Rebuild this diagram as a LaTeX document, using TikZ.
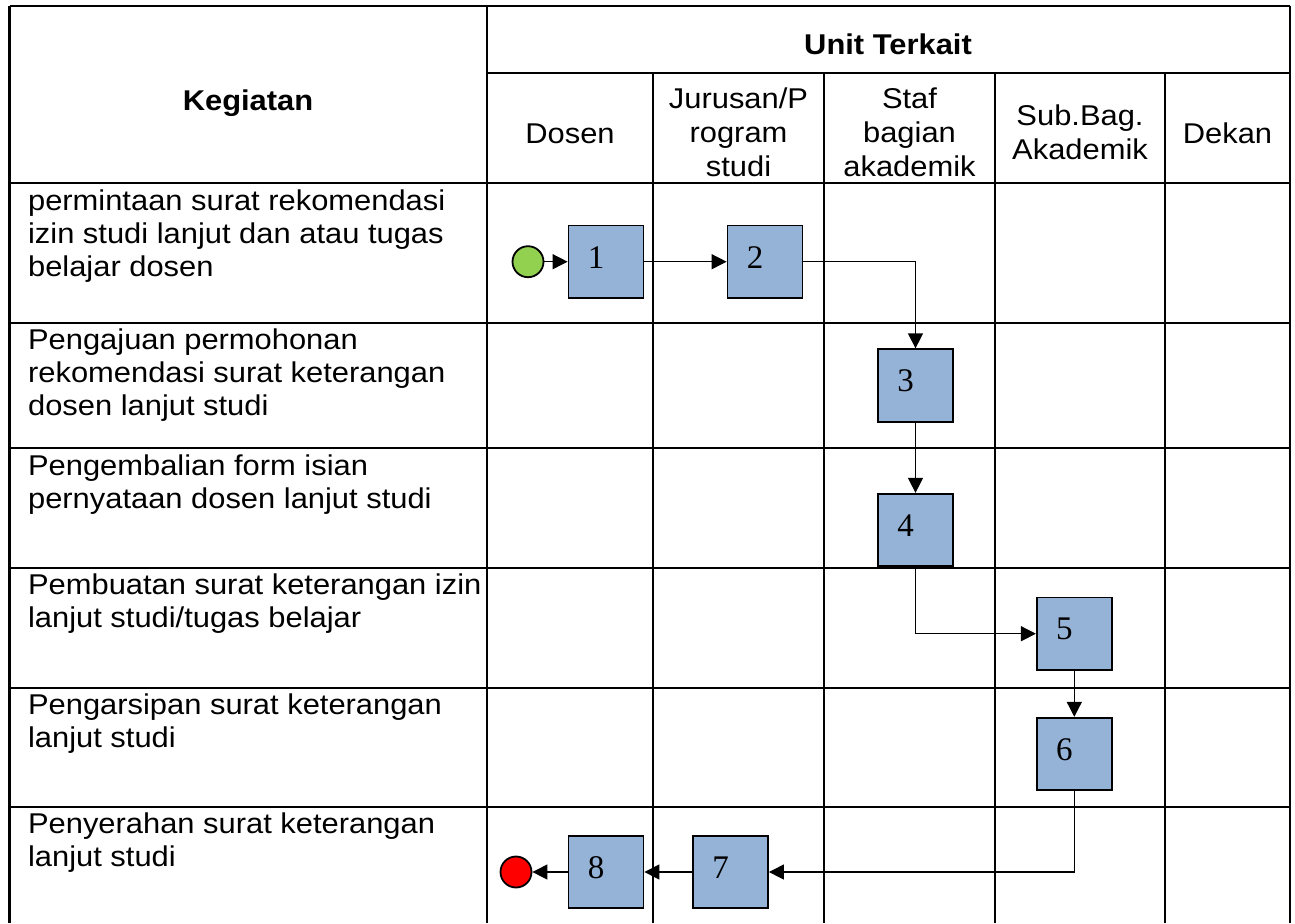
\documentclass[tikz,border=0pt]{standalone}
\usepackage{fontspec}
\setmainfont{Liberation Sans}
\newfontfamily\numfont{Liberation Serif}
\usepackage{graphicx}
\usetikzlibrary{arrows.meta}
\definecolor{boxblue}{RGB}{149,179,215}
\definecolor{startgreen}{RGB}{146,208,80}
\definecolor{endred}{RGB}{255,0,0}
\newcommand{\wide}[1]{\scalebox{1.08}[1]{#1}}
\newcommand{\lines}[1]{\wide{\begin{tabular}[t]{@{}l@{}}#1\end{tabular}}}
\newcommand{\clines}[1]{\wide{\begin{tabular}[t]{@{}c@{}}#1\end{tabular}}}
\begin{document}
\begin{tikzpicture}[x=0.5pt,y=-0.5pt,
  grid/.style={line width=1.1pt},
  body/.style={inner sep=0pt, anchor=base west, font=\fontsize{14.3}{16.5}\selectfont},
  head/.style={inner sep=0pt, anchor=base, font=\fontsize{14.3}{17}\selectfont},
  numlbl/.style={inner sep=0pt, font=\numfont\fontsize{16.5}{18}\selectfont, xshift=-5pt, yshift=2.25pt},
  proc/.style={draw=black, line width=0.9pt, fill=boxblue, minimum width=37.5pt, minimum height=36.25pt, inner sep=0pt, label={[numlbl]center:#1}},
  term/.style={circle, draw=black, line width=0.9pt, minimum size=15.5pt, inner sep=0pt},
  conn/.style={line width=0.65pt, -{Triangle[length=7.5pt,width=7.5pt]}}]
\useasboundingbox (0,0) rectangle (1295,923);
\fill[white] (0,0) rectangle (1295,923);
% table grid
\draw[grid] (9.5,6) -- (1290,6);
\draw[grid] (487,72.7) -- (1290,72.7);
\foreach \y in {183,322.7,448.3,567.7,687.7,806.7}
  \draw[grid] (9.5,\y) -- (1290,\y);
\draw[grid] (9.5,6) -- (9.5,923);
\draw[grid] (487,6) -- (487,923);
\draw[grid] (1290,6) -- (1290,923);
\foreach \x in {653,824,995,1165}
  \draw[grid] (\x,72.7) -- (\x,923);
% headers
\node[head, font=\fontsize{14.3}{17}\selectfont\bfseries] (hkeg) at (248,110) {\wide{Kegiatan}};
\node[head, font=\fontsize{14.3}{17}\selectfont\bfseries] (hunit) at (888,54) {\wide{Unit Terkait}};
\node[head] (hdos) at (570,143.3) {\clines{Dosen}};
\node[head] (hjur) at (738.5,108.3) {\clines{Jurusan/P\\rogram\\studi}};
\node[head] (hstaf) at (909.5,108.3) {\clines{Staf\\bagian\\akademik}};
\node[head] (hsub) at (1080,125) {\clines{Sub.Bag.\\Akademik}};
\node[head] (hdek) at (1227.5,143.3) {\clines{Dekan}};
% activities
\node[body] (k1) at (27.7,210) {\lines{permintaan surat rekomendasi\\izin studi lanjut dan atau tugas\\belajar dosen}};
\node[body] (k2) at (27.7,349.7) {\lines{Pengajuan permohonan\\rekomendasi surat keterangan\\dosen lanjut studi}};
\node[body] (k3) at (27.7,475.3) {\lines{Pengembalian form isian\\pernyataan dosen lanjut studi}};
\node[body] (k4) at (27.7,594.7) {\lines{Pembuatan surat keterangan izin\\lanjut studi/tugas belajar}};
\node[body] (k5) at (27.7,714.7) {\lines{Pengarsipan surat keterangan\\lanjut studi}};
\node[body] (k6) at (27.7,833.7) {\lines{Penyerahan surat keterangan\\lanjut studi}};
% flow
\node[term, fill=startgreen] (start) at (528,261.7) {};
\node[proc=1] (b1) at (606,261.7) {};
\node[proc=2] (b2) at (765,261.7) {};
\node[proc=3] (b3) at (915.5,385.5) {};
\node[proc=4] (b4) at (915.5,530) {};
\node[proc=5] (b5) at (1074.3,633.7) {};
\node[proc=6] (b6) at (1074.3,754) {};
\node[proc=7] (b7) at (730.5,872) {};
\node[proc=8] (b8) at (606,872) {};
\node[term, fill=endred] (stop) at (516,872) {};
\draw[conn] (start) -- (b1);
\draw[conn] (b1) -- (b2);
\draw[conn] (b2.east) -| (b3.north);
\draw[conn] (b3) -- (b4);
\draw[conn] (b4.south) |- (b5.west);
\draw[conn] (b5) -- (b6);
\draw[conn] (b6.south) |- (b7.east);
\draw[conn] (b7) -- (b8);
\draw[conn] (b8) -- (stop);
\end{tikzpicture}
\end{document}
